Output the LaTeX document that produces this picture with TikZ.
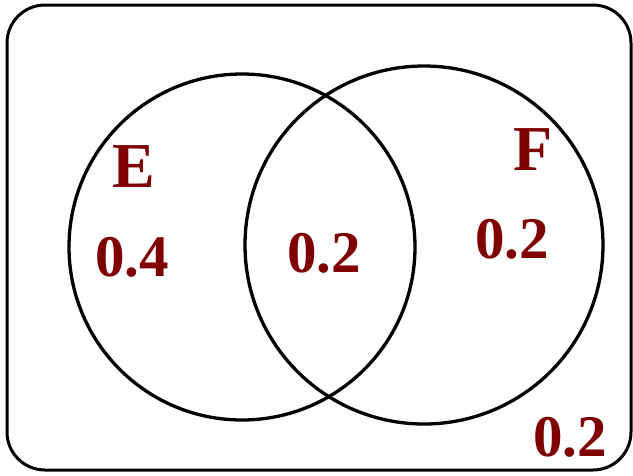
\documentclass[tikz,border=0pt]{standalone}
\usepackage{fontspec}
\setmainfont{Liberation Serif}
\usepackage{xcolor}
\usetikzlibrary{shapes,positioning,calc}

\definecolor{setred}{HTML}{7F0000}

\begin{document}
\begin{tikzpicture}[x=1pt,y=-1pt]
    \useasboundingbox (0,0) rectangle (633,475);

    % Universe
    \draw[line width=3pt,rounded corners=38pt] (7,5) rectangle (631,470);

    % Sets
    \node[circle,draw,line width=3.3pt,minimum size=346pt,inner sep=0pt] (setE) at (242,247) {};
    \node[circle,draw,line width=3.3pt,minimum size=358pt,inner sep=0pt] (setF) at (424,245) {};

    % Set names
    \node[text=setred,font=\fontsize{64}{64}\selectfont\bfseries,inner sep=0pt] (nameE) at (134,167) {E};
    \node[text=setred,font=\fontsize{64}{64}\selectfont\bfseries,inner sep=0pt] (nameF) at (533,150) {F};

    % Probabilities
    \node[text=setred,font=\fontsize{59}{59}\selectfont\bfseries,inner sep=0pt] (onlyE) at (132,257) {0.4};
    \node[text=setred,font=\fontsize{59}{59}\selectfont\bfseries,inner sep=0pt] (both) at (324,253) {0.2};
    \node[text=setred,font=\fontsize{59}{59}\selectfont\bfseries,inner sep=0pt] (onlyF) at (512,239) {0.2};
    \node[text=setred,font=\fontsize{59}{59}\selectfont\bfseries,inner sep=0pt] (neither) at (570,437) {0.2};
\end{tikzpicture}
\end{document}
